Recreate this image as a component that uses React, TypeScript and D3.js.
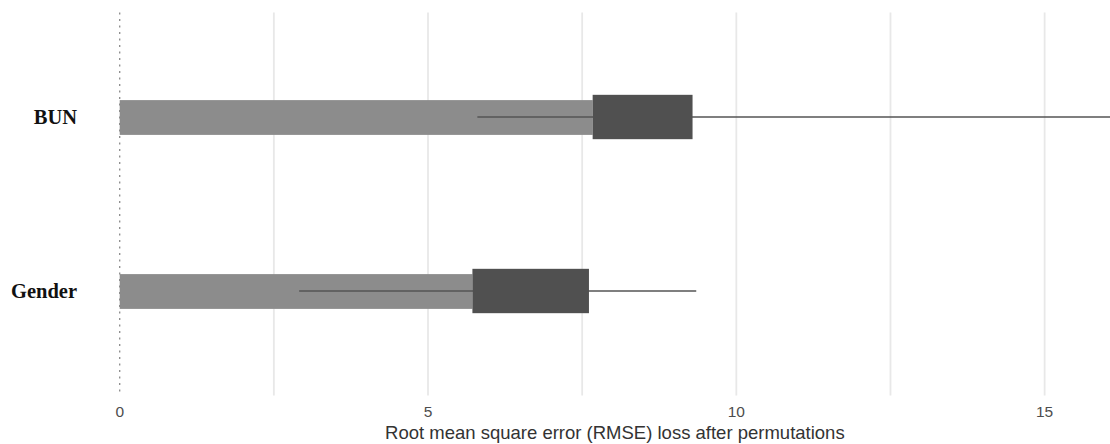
import React from "react";
import * as d3 from "d3";

// Variables, drawn top to bottom
const variables = ["BUN", "Gender"];
// Mean dropout loss bar (from 0)
const barEnd = [7.67, 5.72];
// Box: first and third quartile of permutation losses
const boxLow = [7.67, 5.72];
const boxHigh = [9.29, 7.61];
// Whiskers: min and max of permutation losses
const whiskerLow = [5.8, 2.91];
const whiskerHigh = [16.06, 9.35];
const xTicks = [0, 5, 10, 15];
const xGrid = [0, 2.5, 5, 7.5, 10, 12.5, 15];
const xTitle = "Root mean square error (RMSE) loss after permutations";

const W = 1110;
const H = 444;
const panel = { left: 119.7, right: 1110, top: 12.6, bottom: 395.4 };

export default function App() {
  const x = d3.scaleLinear().domain([0, 16.06]).range([panel.left, panel.right]);
  // discrete axis with 0.6 expansion each side
  const y = d3
    .scaleLinear()
    .domain([0.4, 2.6])
    .range([panel.bottom, panel.top]);
  const pos = (i: number) => y(variables.length - i);
  const unit = Math.abs(y(1) - y(0));
  const barH = unit * 0.2;
  const boxH = unit * 0.255;

  return (
    <svg
      width={W}
      height={H}
      style={{ position: "absolute", left: 0, top: 0, background: "#fff" }}
    >
      {xGrid
        .filter((v) => v !== 0)
        .map((v) => (
          <line
            key={v}
            x1={x(v)}
            x2={x(v)}
            y1={panel.top}
            y2={panel.bottom}
            stroke="#e8e8e8"
            strokeWidth={1.8}
          />
        ))}
      <line
        x1={x(0)}
        x2={x(0)}
        y1={panel.top}
        y2={panel.bottom}
        stroke="#8a8a8a"
        strokeWidth={1.3}
        strokeDasharray="2 4.5"
      />
      {variables.map((v, i) => {
        const cy = pos(i);
        return (
          <g key={v}>
            <rect
              x={x(0)}
              y={cy - barH / 2 + 0.5}
              width={x(barEnd[i]) - x(0)}
              height={barH}
              fill="#8c8c8c"
            />
            <line
              x1={x(whiskerLow[i])}
              x2={x(whiskerHigh[i])}
              y1={cy}
              y2={cy}
              stroke="#555"
              strokeWidth={1.4}
            />
            <rect
              x={x(boxLow[i])}
              y={cy - boxH / 2}
              width={x(boxHigh[i]) - x(boxLow[i])}
              height={boxH}
              fill="#505050"
            />
            <text
              x={77}
              y={cy}
              dy="0.35em"
              textAnchor="end"
              fontFamily="'Liberation Serif', 'Times New Roman', serif"
              fontWeight="bold"
              fontSize={20.5}
              fill="#111"
            >
              {v}
            </text>
          </g>
        );
      })}
      {xTicks.map((t) => (
        <text
          key={t}
          x={x(t)}
          y={412}
          dy="0.35em"
          textAnchor="middle"
          fontFamily="'Liberation Sans', Arial, sans-serif"
          fontSize={15.5}
          fill="#4d4d4d"
        >
          {t}
        </text>
      ))}
      <text
        x={(panel.left + panel.right) / 2}
        y={433}
        dy="0.35em"
        textAnchor="middle"
        fontFamily="'Liberation Sans', Arial, sans-serif"
        fontSize={18.5}
        fill="#333"
      >
        {xTitle}
      </text>
    </svg>
  );
}
